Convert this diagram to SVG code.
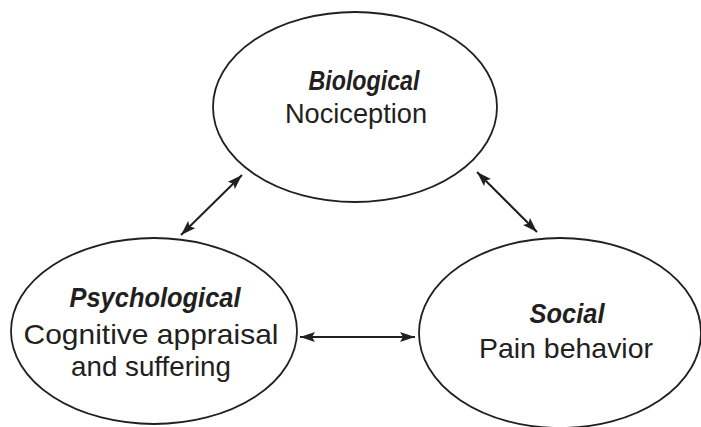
<svg xmlns="http://www.w3.org/2000/svg" width="701" height="427" viewBox="0 0 701 427">
<style>
.node ellipse{fill:#fff;stroke:#231f20;stroke-width:1.8}
.t{font-family:"Liberation Sans",Arial,sans-serif;font-size:28px;fill:#231f20;text-anchor:middle}
.b{font-weight:bold;font-style:italic}
.conn line{stroke:#231f20;stroke-width:2;marker-start:url(#ah);marker-end:url(#ah)}
</style>
<defs>
<marker id="ah" markerUnits="userSpaceOnUse" markerWidth="16" markerHeight="11" refX="15" refY="5" orient="auto-start-reverse" viewBox="0 0 16 10">
<path d="M0,0 L15,5 L0,10 L3,5 z" fill="#231f20"/>
</marker>
</defs>
<rect width="701" height="427" fill="#fff"/>
<g id="biological" class="node">
<ellipse cx="355" cy="107" rx="142" ry="95"/>
<text class="t b" x="364" y="90" textLength="111" lengthAdjust="spacingAndGlyphs">Biological</text>
<text class="t" x="356" y="123" textLength="142" lengthAdjust="spacingAndGlyphs">Nociception</text>
</g>
<g id="psychological" class="node">
<ellipse cx="154" cy="331" rx="143" ry="93"/>
<text class="t b" x="155" y="307" textLength="171" lengthAdjust="spacingAndGlyphs">Psychological</text>
<text class="t" x="151" y="344" textLength="255" lengthAdjust="spacingAndGlyphs">Cognitive appraisal</text>
<text class="t" x="151" y="376" textLength="160" lengthAdjust="spacingAndGlyphs">and suffering</text>
</g>
<g id="social" class="node">
<ellipse cx="560" cy="333" rx="141" ry="95"/>
<text class="t b" x="567" y="323" textLength="75" lengthAdjust="spacingAndGlyphs">Social</text>
<text class="t" x="566" y="358" textLength="174" lengthAdjust="spacingAndGlyphs">Pain behavior</text>
</g>
<g id="connectors" class="conn">
<line x1="181" y1="235" x2="242" y2="175"/>
<line x1="477" y1="172" x2="537" y2="232"/>
<line x1="300" y1="337" x2="415" y2="337"/>
</g>
</svg>
